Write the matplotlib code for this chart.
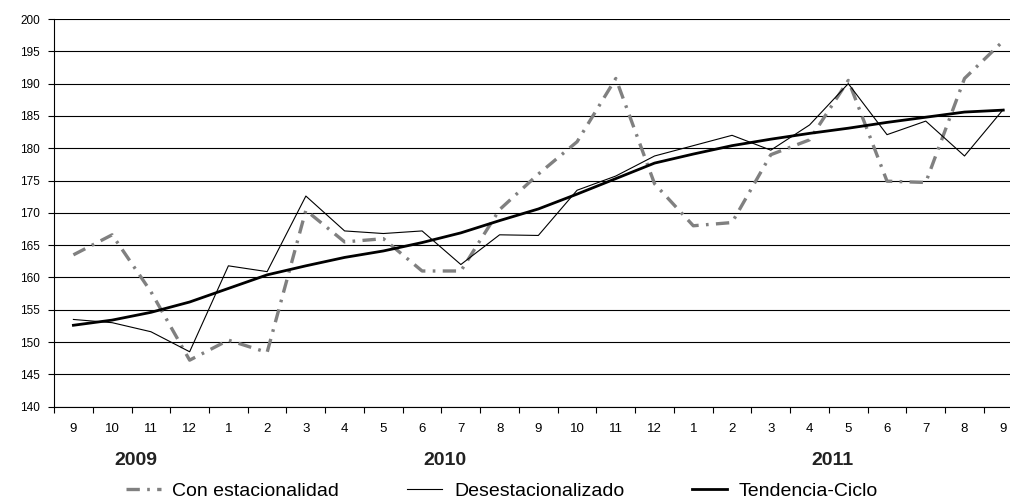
import matplotlib
matplotlib.use('Agg')
import matplotlib.pyplot as plt
import numpy as np

meses = ['9', '10', '11', '12', '1', '2', '3', '4', '5', '6', '7', '8',
         '9', '10', '11', '12', '1', '2', '3', '4', '5', '6', '7', '8', '9']

con_estacionalidad = [163.5, 166.6, 157.8, 147.2, 150.3, 148.4, 170.4, 165.5,
                      166.0, 161.0, 161.0, 170.5, 176.0, 181.0, 190.8, 174.5,
                      168.0, 168.5, 179.0, 181.3, 190.5, 174.9, 174.7, 190.8, 196.6]

desestacionalizado = [153.5, 153.0, 151.6, 148.5, 161.8, 160.9, 172.6, 167.2,
                      166.8, 167.2, 162.0, 166.6, 166.5, 173.5, 175.7, 178.8,
                      180.4, 182.0, 179.7, 183.6, 190.0, 182.1, 184.2, 178.8, 186.0]

tendencia_ciclo = [152.6, 153.4, 154.6, 156.2, 158.3, 160.4, 161.8, 163.1,
                   164.1, 165.4, 166.9, 168.8, 170.6, 172.9, 175.3, 177.7,
                   179.1, 180.4, 181.4, 182.3, 183.1, 184.0, 184.8, 185.6, 185.9]

anios = ['2009', '2010', '2011']
anios_pos = [1.6, 9.6, 19.6]

plt.rcParams['font.family'] = ['Liberation Sans', 'DejaVu Sans']

fig = plt.figure(figsize=(10.1, 5.03), dpi=100)
# el eje se sale un poco por la derecha, como en el original
ax = fig.add_axes([0.0535, 0.1915, 0.959, 0.7707])

x = np.arange(len(meses))

ax.plot(x, con_estacionalidad, color='#808080', linewidth=2.4,
        dashes=(4, 2.2, 0.8, 2.2), label='Con estacionalidad')
ax.plot(x, desestacionalizado, color='black', linewidth=0.8,
        label='Desestacionalizado')
ax.plot(x, tendencia_ciclo, color='black', linewidth=2.0,
        label='Tendencia-Ciclo')

ax.set_xlim(-0.5, len(meses) - 0.5)
ax.set_ylim(140, 200)
ax.set_yticks(np.arange(140, 201, 5))
ax.tick_params(axis='y', labelsize=8.5, length=4, width=0.8, pad=6)

ax.set_xticks(x)
ax.set_xticklabels(meses, fontsize=9.5)
ax.set_xticks(np.arange(-0.5, len(meses), 1), minor=True)
ax.tick_params(axis='x', which='major', length=0, pad=12)
ax.tick_params(axis='x', which='minor', length=4, width=0.8, direction='out')

ax.grid(True, axis='y', color='black', linewidth=0.8)
ax.set_axisbelow(True)
for s in ['top', 'right']:
    ax.spines[s].set_visible(False)
ax.spines['left'].set_linewidth(0.8)
ax.spines['bottom'].set_linewidth(0.8)

for a, p in zip(anios, anios_pos):
    ax.text(p, -0.14, a, transform=ax.get_xaxis_transform(), ha='center',
            va='center', fontsize=14, weight='bold', color='#222222')

fig.legend(loc='center', bbox_to_anchor=(0.497, 0.024), ncol=3, frameon=False,
           fontsize=14, handlelength=1.8, columnspacing=3.5, handletextpad=0.6,
           borderpad=0.1)

plt.savefig('out.png', dpi=100)
plt.close(fig)
